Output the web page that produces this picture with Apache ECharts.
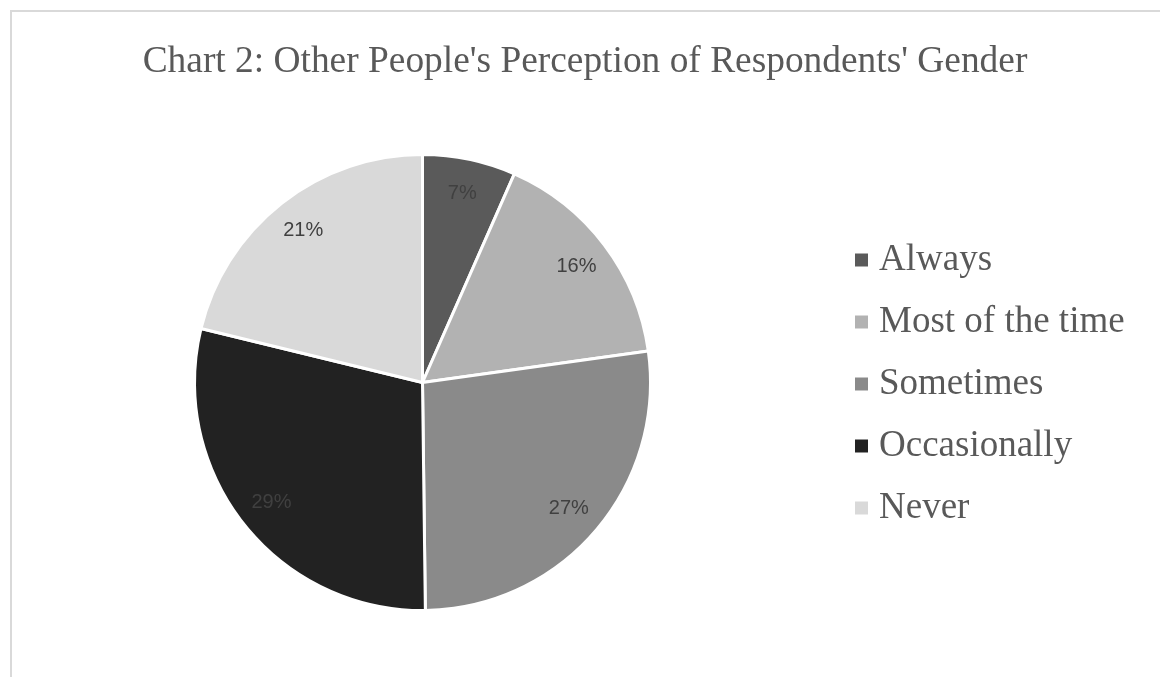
<!DOCTYPE html>
<html>
<head>
<meta charset="utf-8">
<script src="https://cdn.jsdelivr.net/npm/echarts@6/dist/echarts.min.js"></script>
<style>
  html, body { margin: 0; padding: 0; background: #fff; }
  #chart { width: 1160px; height: 677px; }
</style>
</head>
<body>
<div id="chart"></div>
<script>
// answers, in legend order (percent of respondents)
const categories = ['Always', 'Most of the time', 'Sometimes', 'Occasionally', 'Never'];
const shares = [6.6, 16.2, 27.0, 29.0, 21.2];
const sliceColors = ['#5a5a5a', '#b2b2b2', '#8a8a8a', '#222222', '#d9d9d9'];

const chart = echarts.init(document.getElementById('chart'));

const pieData = categories.map((name, i) => ({
  name: name,
  value: shares[i],
  itemStyle: { color: sliceColors[i] }
}));

const option = {
  animation: false,
  title: {
    text: "Chart 2: Other People's Perception of Respondents' Gender",
    left: 580,
    textAlign: 'center',
    top: 38,
    textStyle: {
      fontFamily: 'Liberation Serif',
      fontWeight: 'normal',
      fontSize: 37.4,
      lineHeight: 38,
      color: '#595959'
    }
  },
  legend: {
    orient: 'vertical',
    left: 855,
    top: 240,
    padding: 0,
    icon: 'rect',
    itemWidth: 13,
    itemHeight: 13,
    itemGap: 22,
    data: categories,
    itemStyle: { borderWidth: 0 },
    textStyle: {
      fontFamily: 'Liberation Serif',
      fontSize: 37,
      lineHeight: 37,
      color: '#595959',
      padding: [3, 0, 0, 6]
    }
  },
  graphic: [{
    type: 'rect',
    shape: { x: 11, y: 11, width: 1300, height: 900 },
    style: { fill: 'none', stroke: '#d9d9d9', lineWidth: 2 },
    silent: true
  }],
  series: [
    {
      type: 'pie',
      center: [422.5, 382.5],
      radius: [0, 228],
      startAngle: 90,
      clockwise: true,
      data: pieData,
      itemStyle: { borderColor: '#fff', borderWidth: 3 },
      label: { show: false },
      labelLine: { show: false },
      emphasis: { scale: false }
    },
    {
      // label ring only, to set labels near the rim like the original
      type: 'pie',
      center: [422.5, 382.5],
      radius: [152, 228],
      startAngle: 90,
      clockwise: true,
      silent: true,
      data: categories.map((name, i) => ({ name: name, value: shares[i] })),
      itemStyle: { color: 'transparent', borderWidth: 0 },
      label: {
        show: true,
        position: 'inside',
        fontFamily: 'Liberation Sans',
        fontSize: 20,
        color: '#404040',
        formatter: p => Math.round(p.percent) + '%'
      },
      labelLine: { show: false },
      emphasis: { disabled: true }
    }
  ]
};

chart.setOption(option);
</script>
</body>
</html>
